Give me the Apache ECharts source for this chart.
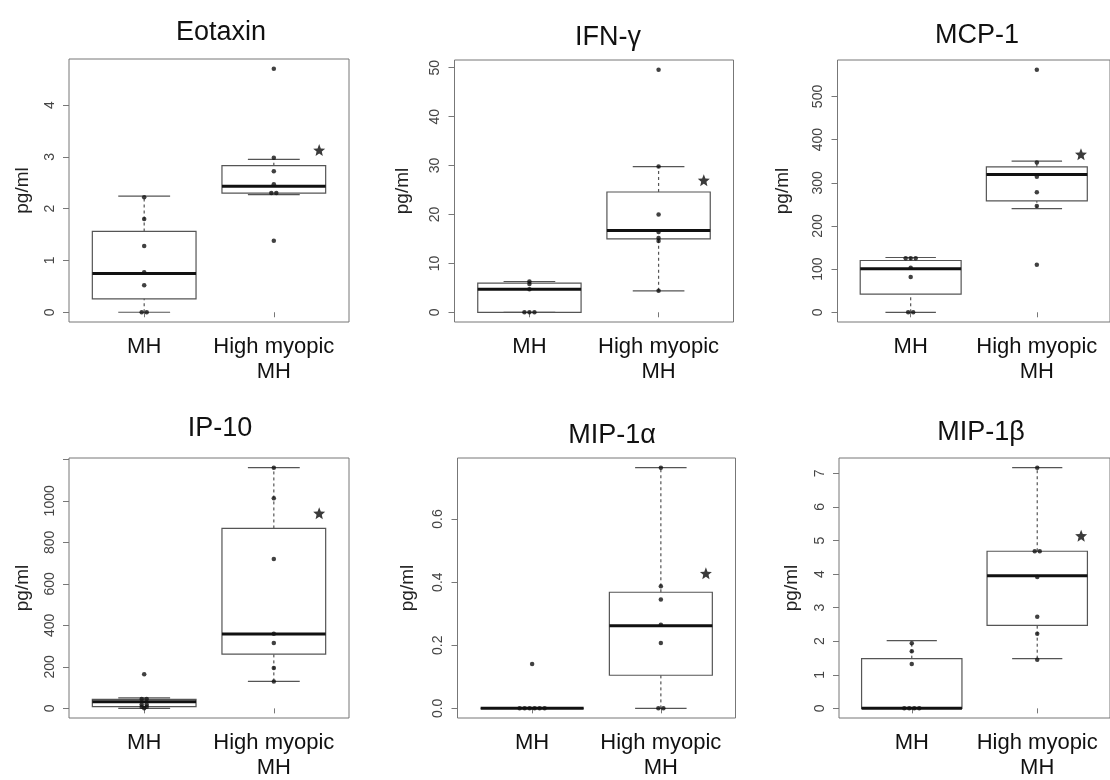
<!DOCTYPE html>
<html><head><meta charset="utf-8">
<script src="https://cdn.jsdelivr.net/npm/echarts@6/dist/echarts.min.js"></script>
<style>html,body{margin:0;padding:0;background:#fff}#c{width:1110px;height:780px}</style>
</head><body><div id="c"></div><script>
// ---------- DATA ----------
const categories = ['MH', 'High myopic\nMH'];
const titles = ['Eotaxin', 'IFN-\u03B3', 'MCP-1', 'IP-10', 'MIP-1\u03B1', 'MIP-1\u03B2'];
// box stats: [lower whisker, Q1, median, Q3, upper whisker]
const eotaxinBoxMH = [0, 0.26, 0.75, 1.56, 2.24];
const eotaxinBoxHM = [2.27, 2.30, 2.43, 2.83, 2.95];
const eotaxinPtsMH = [0, 0, 0.52, 0.77, 1.28, 1.80, 2.22];
const eotaxinPtsHM = [1.38, 2.30, 2.30, 2.47, 2.72, 2.98, 4.70];
const eotaxinTicks = [0, 1, 2, 3, 4];

const ifnBoxMH = [0, 0, 4.7, 5.95, 6.3];
const ifnBoxHM = [4.4, 15.0, 16.7, 24.6, 29.8];
const ifnPtsMH = [0, 0, 0, 4.7, 5.8, 6.3];
const ifnPtsHM = [4.4, 14.6, 15.2, 16.4, 20.0, 29.8, 49.6];
const ifnTicks = [0, 10, 20, 30, 40, 50];

const mcpBoxMH = [0, 42, 101, 120, 127];
const mcpBoxHM = [240, 258, 319, 337, 350];
const mcpPtsMH = [0, 0, 82, 103, 125, 125, 125];
const mcpPtsHM = [110, 246, 278, 314, 347, 562];
const mcpTicks = [0, 100, 200, 300, 400, 500];

const ip10BoxMH = [0, 8, 32, 43, 51];
const ip10BoxHM = [130, 261, 358, 867, 1160];
const ip10PtsMH = [0, 8, 8, 19, 19, 45, 45, 164];
const ip10PtsHM = [130, 194, 315, 360, 720, 1012, 1160];
const ip10Ticks = [0, 200, 400, 600, 800, 1000, 1200];
const ip10TickLabels = [0, 200, 400, 600, 800, 1000];

const mip1aBoxMH = [0, 0, 0, 0, 0];
const mip1aBoxHM = [0, 0.105, 0.262, 0.368, 0.763];
const mip1aPtsMH = [0, 0, 0, 0, 0, 0, 0.141];
const mip1aPtsHM = [0, 0, 0.207, 0.265, 0.345, 0.387, 0.763];
const mip1aTicks = [0, 0.2, 0.4, 0.6];

const mip1bBoxMH = [0, 0, 0, 1.48, 2.02];
const mip1bBoxHM = [1.48, 2.47, 3.95, 4.68, 7.17];
const mip1bPtsMH = [0, 0, 0, 0, 1.32, 1.70, 1.94];
const mip1bPtsHM = [1.45, 2.22, 2.73, 3.91, 4.68, 4.68, 7.17];
const mip1bTicks = [0, 1, 2, 3, 4, 5, 6, 7];

// significance marker "*" position (x in group units, y in pg/ml)
const starX = 2.35;
const starY = [3.13, 27, 366, 940, 0.428, 5.14];

// ---------- LAYOUT ----------
const panels = [
  {box: [eotaxinBoxMH, eotaxinBoxHM], pts: [eotaxinPtsMH, eotaxinPtsHM], ticks: eotaxinTicks, labels: eotaxinTicks, dec: 0},
  {box: [ifnBoxMH, ifnBoxHM], pts: [ifnPtsMH, ifnPtsHM], ticks: ifnTicks, labels: ifnTicks, dec: 0},
  {box: [mcpBoxMH, mcpBoxHM], pts: [mcpPtsMH, mcpPtsHM], ticks: mcpTicks, labels: mcpTicks, dec: 0},
  {box: [ip10BoxMH, ip10BoxHM], pts: [ip10PtsMH, ip10PtsHM], ticks: ip10Ticks, labels: ip10TickLabels, dec: 0},
  {box: [mip1aBoxMH, mip1aBoxHM], pts: [mip1aPtsMH, mip1aPtsHM], ticks: mip1aTicks, labels: mip1aTicks, dec: 1},
  {box: [mip1bBoxMH, mip1bBoxHM], pts: [mip1bPtsMH, mip1bPtsHM], ticks: mip1bTicks, labels: mip1bTicks, dec: 0}
];
const gridRects = [[69, 59, 280, 263], [454.5, 60, 279, 262], [837.5, 60, 280, 262],
                   [69, 458, 280, 262], [457.5, 458, 278, 262], [839, 458, 279, 262]];
const titlePos = [[216, 14], [603, 19], [972, 17], [215, 410], [607, 417], [976, 414]];
const nameGaps = [37, 42, 45, 37, 40, 38];
const STAR = 'path://M50,0 L63,33 L98,35 L71,57 L79,92 L50,73 L21,92 L29,57 L2,35 L37,33 Z';

const FONT = 'Liberation Sans, Arial, sans-serif';
const grids = [], xAxes = [], yAxes = [], series = [], titleOpts = [];

function renderBox(params, api) {
  const x = api.value(0);
  const v = [api.value(1), api.value(2), api.value(3), api.value(4), api.value(5)];
  const hw = 0.4, cw = 0.2;
  const c = (xx, yy) => api.coord([xx, yy]);
  const stroke = '#555';
  const line = (a, b, extra) => ({type: 'line', shape: {x1: a[0], y1: a[1], x2: b[0], y2: b[1]},
    style: Object.assign({stroke: stroke, lineWidth: 1.2}, extra || {})});
  const tl = c(x - hw, v[3]), br = c(x + hw, v[1]);
  return {type: 'group', children: [
    line(c(x, v[0]), c(x, v[1]), {lineDash: [3, 3]}),
    line(c(x, v[3]), c(x, v[4]), {lineDash: [3, 3]}),
    line(c(x - cw, v[0]), c(x + cw, v[0])),
    line(c(x - cw, v[4]), c(x + cw, v[4])),
    {type: 'rect', shape: {x: tl[0], y: tl[1], width: br[0] - tl[0], height: br[1] - tl[1]},
     style: {stroke: stroke, lineWidth: 1.2, fill: 'rgba(255,255,255,0)'}},
    line(c(x - hw, v[2]), c(x + hw, v[2]), {stroke: '#111', lineWidth: 3})
  ]};
}

panels.forEach((p, i) => {
  const r = gridRects[i];
  grids.push({left: r[0], top: r[1], width: r[2], height: r[3], show: true,
    borderColor: '#777', borderWidth: 1, backgroundColor: 'transparent', containLabel: false});
  const all = [].concat(p.pts[0], p.pts[1], p.box[0], p.box[1]);
  const lo = Math.min.apply(null, all), hi = Math.max.apply(null, all);
  const pad = 0.04 * (hi - lo);
  xAxes.push({type: 'value', gridIndex: i, min: 0.42, max: 2.58,
    axisLine: {show: false}, splitLine: {show: false},
    axisTick: {show: true, customValues: [1, 2], length: 5, lineStyle: {color: '#777'}},
    axisLabel: {customValues: [1, 2], margin: 12, fontSize: 22, lineHeight: 25, color: '#111',
      fontFamily: FONT, formatter: v => categories[Math.round(v) - 1] || ''}});
  yAxes.push({type: 'value', gridIndex: i, min: lo - pad, max: hi + pad,
    name: 'pg/ml', nameLocation: 'middle', nameRotate: 90, nameGap: nameGaps[i],
    nameTextStyle: {fontSize: 19, color: '#222', fontFamily: FONT},
    axisLine: {show: false}, splitLine: {show: false},
    axisTick: {show: true, customValues: p.ticks, length: 6, lineStyle: {color: '#777'}},
    axisLabel: {customValues: p.labels, rotate: 90, margin: 12, fontSize: 14, color: '#444',
      fontFamily: FONT, formatter: v => Number(v).toFixed(p.dec)}});
  titleOpts.push({text: titles[i], left: titlePos[i][0], top: titlePos[i][1], textAlign: 'center',
    textStyle: {fontSize: 27, fontWeight: 'normal', color: '#111', fontFamily: FONT}});
  series.push({type: 'custom', xAxisIndex: i, yAxisIndex: i, renderItem: renderBox, clip: false,
    encode: {x: 0, y: [1, 2, 3, 4, 5]}, silent: true,
    data: [[1].concat(p.box[0]), [2].concat(p.box[1])]});
  const ptData = [];
  p.pts.forEach((arr, g) => {
    const counts = {};
    arr.forEach(v => { counts[v] = (counts[v] || 0) + 1; });
    const seen = {};
    arr.forEach(v => {
      const n = counts[v]; const k = seen[v] = (seen[v] === undefined ? 0 : seen[v] + 1);
      ptData.push({value: [g + 1, v], symbolOffset: [(k - (n - 1) / 2) * 5, 0]});
    });
  });
  series.push({type: 'scatter', xAxisIndex: i, yAxisIndex: i, symbolSize: 4.5, z: 5, silent: true,
    itemStyle: {color: '#111'}, data: ptData});
  series.push({type: 'scatter', xAxisIndex: i, yAxisIndex: i, symbol: STAR, symbolSize: 12, z: 6,
    silent: true, itemStyle: {color: '#0a0a0a'}, data: [[starX, starY[i]]]});
});

const chart = echarts.init(document.getElementById('c'), null, {renderer: 'canvas'});
chart.setOption({animation: false, backgroundColor: '#fff', title: titleOpts,
  grid: grids, xAxis: xAxes, yAxis: yAxes, series: series});
</script></body></html>
